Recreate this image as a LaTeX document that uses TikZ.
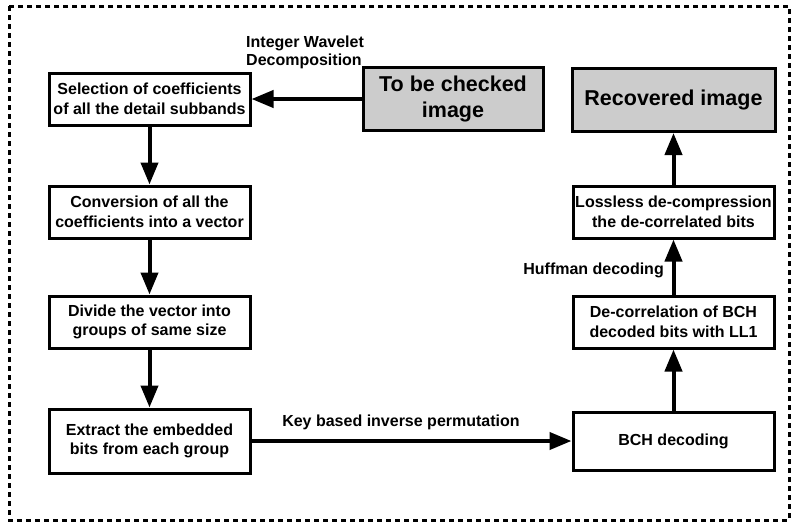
\documentclass[tikz,border=0pt]{standalone}
\usepackage{fontspec}
\setmainfont{Liberation Sans}
\usetikzlibrary{arrows.meta,positioning}

\tikzset{
    stepbox/.style={draw, line width=3pt, fill=white, minimum width=201pt, minimum height=52pt,
        align=center, inner sep=1pt, font=\fontsize{16}{19.5}\selectfont\bfseries},
    imagebox/.style={draw, line width=3pt, fill=gray!40, minimum height=63pt,
        align=center, inner sep=1pt, font=\fontsize{21.5}{26}\selectfont\bfseries},
    steplabel/.style={inner sep=1pt, font=\fontsize{16}{18}\selectfont\bfseries},
    flow/.style={line width=4pt, -{Triangle[length=22pt, width=17pt]}},
    outline/.style={line width=3pt, dash pattern=on 5pt off 4pt},
}

\begin{document}
\begin{tikzpicture}[x=1pt, y=-1pt]
    \useasboundingbox (0,0) rectangle (796,525);
    \draw[outline] (9,6) rectangle (789,520);

    % left column
    \node[stepbox] (select) at (149.5,99) {Selection of coefficients\\of all the detail subbands};
    \node[stepbox] (convert) at (149.5,212) {Conversion of all the\\coefficients into a vector};
    \node[stepbox] (divide) at (149.5,322) {Divide the vector into\\groups of same size};
    \node[stepbox, minimum height=64pt] (extract) at (149.5,441) {Extract the embedded\\bits from each group};

    % images
    \node[imagebox, minimum width=180pt] (checked) at (453,99) {To be checked\\image};
    \node[imagebox, minimum width=203pt] (recovered) at (673.5,100) {Recovered image};

    % right column
    \node[stepbox] (lossless) at (673.5,212) {Lossless de-compression\\the de-correlated bits};
    \node[stepbox] (decor) at (673.5,322) {De-correlation of BCH\\decoded bits with LL1};
    \node[stepbox, minimum height=58pt] (bch) at (673.5,441) {BCH decoding};

    % labels
    \node[steplabel, align=left, anchor=south west] (iwd) at (245,70) {Integer Wavelet\\Decomposition};
    \node[steplabel, anchor=south] (kbip) at (401,431) {Key based inverse permutation};
    \node[steplabel, anchor=east] (huff) at (665,270) {Huffman decoding};

    \draw[flow] (checked) -- (select);
    \draw[flow] (select) -- (convert);
    \draw[flow] (convert) -- (divide);
    \draw[flow] (divide) -- (extract);
    \draw[flow] (extract) -- (bch);
    \draw[flow] (bch) -- (decor);
    \draw[flow] (decor) -- (lossless);
    \draw[flow] (lossless) -- (recovered);
\end{tikzpicture}
\end{document}
